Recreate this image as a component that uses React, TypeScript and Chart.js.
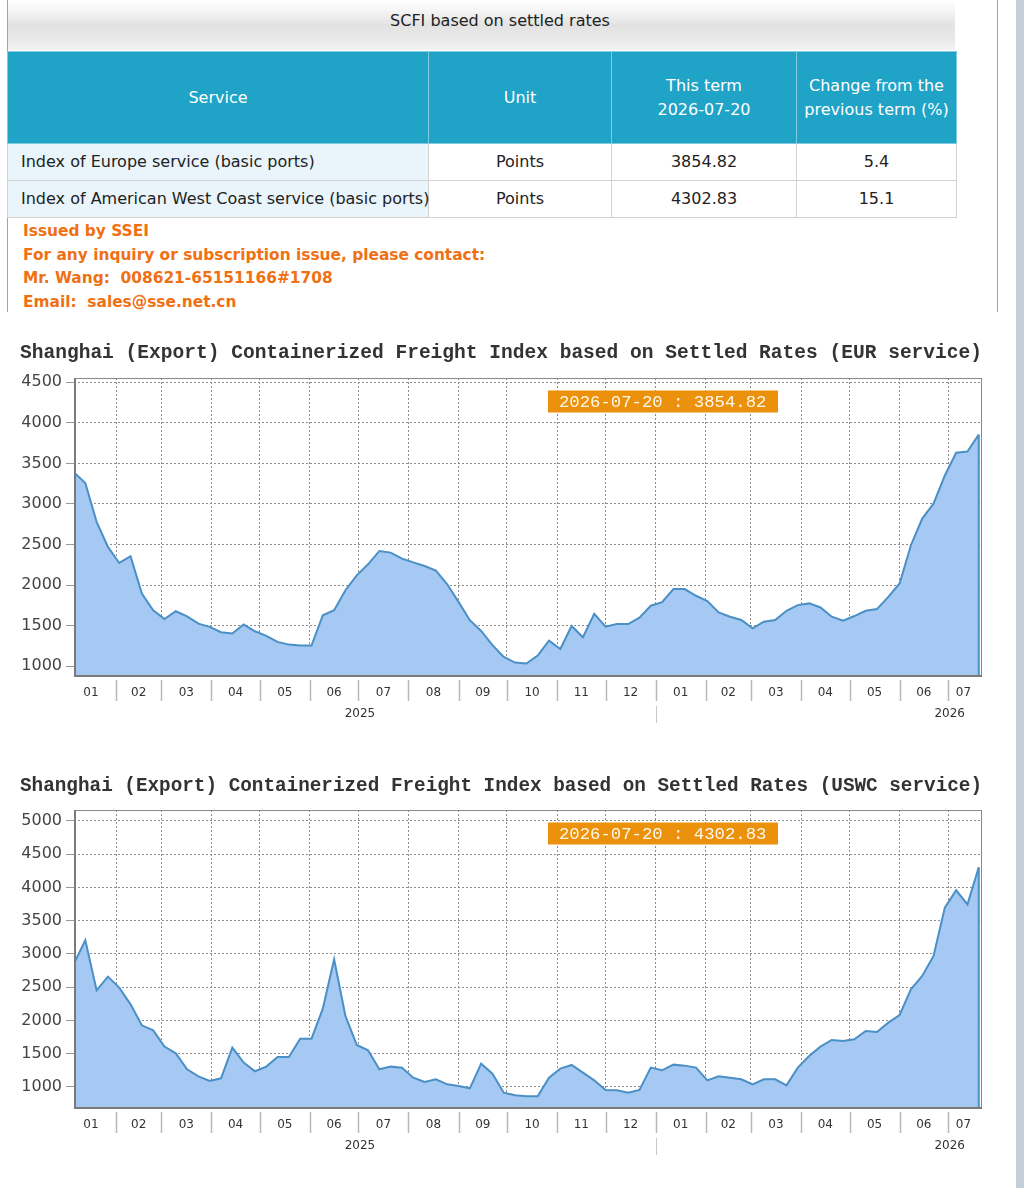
import React, { useEffect, useRef } from "react";
import { Chart, registerables } from "chart.js";

Chart.register(...registerables);

// ---------------- DATA ----------------
const pageTitle = "SCFI based on settled rates";
const tableHeaders = ["Service", "Unit", "This term\n2026-07-20", "Change from the\nprevious term (%)"];
const serviceNames = ["Index of Europe service (basic ports)", "Index of American West Coast service (basic ports)"];
const serviceUnits = ["Points", "Points"];
const thisTermValues = ["3854.82", "4302.83"];
const changePercents = ["5.4", "15.1"];
const contactLines = [
  "Issued by SSEI",
  "For any inquiry or subscription issue, please contact:",
  "Mr. Wang:  008621-65151166#1708",
  "Email:  sales@sse.net.cn",
];

const eurTitle = "Shanghai (Export) Containerized Freight Index based on Settled Rates (EUR service)";
const usTitle = "Shanghai (Export) Containerized Freight Index based on Settled Rates (USWC service)";

const weekDates = [
  "2025-01-06", "2025-01-13", "2025-01-20", "2025-01-27",
  "2025-02-03", "2025-02-10", "2025-02-17", "2025-02-24",
  "2025-03-03", "2025-03-10", "2025-03-17", "2025-03-24", "2025-03-31",
  "2025-04-07", "2025-04-14", "2025-04-21", "2025-04-28",
  "2025-05-05", "2025-05-12", "2025-05-19", "2025-05-26",
  "2025-06-02", "2025-06-09", "2025-06-16", "2025-06-23", "2025-06-30",
  "2025-07-07", "2025-07-14", "2025-07-21", "2025-07-28",
  "2025-08-04", "2025-08-11", "2025-08-18", "2025-08-25",
  "2025-09-01", "2025-09-08", "2025-09-15", "2025-09-22", "2025-09-29",
  "2025-10-06", "2025-10-13", "2025-10-20", "2025-10-27",
  "2025-11-03", "2025-11-10", "2025-11-17", "2025-11-24",
  "2025-12-01", "2025-12-08", "2025-12-15", "2025-12-22", "2025-12-29",
  "2026-01-05", "2026-01-12", "2026-01-19", "2026-01-26",
  "2026-02-02", "2026-02-09", "2026-02-16", "2026-02-23",
  "2026-03-02", "2026-03-09", "2026-03-16", "2026-03-23", "2026-03-30",
  "2026-04-06", "2026-04-13", "2026-04-20", "2026-04-27",
  "2026-05-04", "2026-05-11", "2026-05-18", "2026-05-25",
  "2026-06-01", "2026-06-08", "2026-06-15", "2026-06-22", "2026-06-29",
  "2026-07-06", "2026-07-13", "2026-07-20",
];

const eurValues = [
  3390, 3259, 2780, 2471,
  2273, 2356, 1896, 1690,
  1583, 1678, 1616, 1526, 1485,
  1419, 1403, 1514, 1431,
  1374, 1300, 1267, 1255,
  1255, 1629, 1690, 1937, 2121,
  2257, 2421, 2401, 2327,
  2280, 2235, 2180, 2010,
  1794, 1568, 1435, 1260, 1115,
  1045, 1033, 1131, 1316,
  1213, 1496, 1357, 1647,
  1488, 1520, 1520, 1598, 1746,
  1791, 1951, 1951, 1869,
  1803, 1664, 1611, 1570,
  1467, 1549, 1570, 1684, 1754,
  1775, 1725, 1611, 1561,
  1619, 1684, 1705, 1856,
  2020, 2492, 2820, 3004, 3352,
  3631, 3647, 3854.82,
];

const usValues = [
  2855, 3206, 2454, 2659,
  2494, 2243, 1927, 1852,
  1607, 1506, 1266, 1160, 1090,
  1130, 1592, 1366, 1236,
  1306, 1451, 1451, 1727,
  1727, 2178, 2920, 2068, 1632,
  1551, 1266, 1306, 1291,
  1140, 1075, 1115, 1040,
  1015, 980, 1351, 1200, 915,
  875, 860, 860, 1140,
  1276, 1331, 1216, 1100,
  955, 950, 915, 955, 1291,
  1251, 1336, 1321, 1291,
  1100, 1160, 1140, 1115,
  1040, 1115, 1115, 1025, 1291,
  1466, 1607, 1707, 1692,
  1717, 1842, 1827, 1968,
  2083, 2469, 2669, 2970, 3697,
  3958, 3747, 4302.83,
];

const monthStartDates = [
  "2025-01-01", "2025-02-01", "2025-03-01", "2025-04-01", "2025-05-01", "2025-06-01",
  "2025-07-01", "2025-08-01", "2025-09-01", "2025-10-01", "2025-11-01", "2025-12-01",
  "2026-01-01", "2026-02-01", "2026-03-01", "2026-04-01", "2026-05-01", "2026-06-01",
  "2026-07-01", "2026-08-01",
];
const monthLabels = ["01", "02", "03", "04", "05", "06", "07", "08", "09", "10", "11", "12",
  "01", "02", "03", "04", "05", "06", "07"];
const yearLabels = ["2025", "2026"];
const yearLabelDates = ["2025-07-02", "2026-07-02"];
const yearSeparatorDate = "2026-01-01";
const axisEndDate = "2026-07-22";

const eurYTicks = [1000, 1500, 2000, 2500, 3000, 3500, 4000, 4500];
const usYTicks = [1000, 1500, 2000, 2500, 3000, 3500, 4000, 4500, 5000];

// ---------------- STYLE ----------------
const UI_FONT = '"DejaVu Sans", Verdana, sans-serif';
const AXIS_FONT = '"DejaVu Sans", sans-serif';
const MONO_FONT = '"Liberation Mono", monospace';
const FILL = "#a5c9f2";
const LINE = "#4a8fc6";

const dayOf = (s: string) => {
  const [y, m, d] = s.split("-").map(Number);
  return (Date.UTC(y, m - 1, d) - Date.UTC(2025, 0, 1)) / 86400000;
};

type ChartProps = {
  top: number;
  height: number;
  title: string;
  values: number[];
  yMin: number;
  yMax: number;
  yTicks: number[];
  titleBottom: number;
};

function FreightChart({ top, height, title, values, yMin, yMax, yTicks, titleBottom }: ChartProps) {
  const ref = useRef<HTMLCanvasElement>(null);

  useEffect(() => {
    const canvas = ref.current;
    if (!canvas) return;
    const xMin = dayOf(weekDates[0]);
    const lastDay = dayOf(weekDates[weekDates.length - 1]);
    const xMax = dayOf(axisEndDate);
    const boundaries = monthStartDates.map(dayOf).filter((d) => d > xMin && d < xMax);
    const boundarySet = new Set(boundaries);
    const labelMap = new Map<number, string>();
    monthLabels.forEach((lab, i) => {
      const a = dayOf(monthStartDates[i]);
      const b = Math.min(dayOf(monthStartDates[i + 1]), lastDay);
      labelMap.set((a + b) / 2, lab);
    });
    const xTickValues = [...boundaries, ...Array.from(labelMap.keys())].sort((p, q) => p - q);
    const sepDay = dayOf(yearSeparatorDate);
    const lastLabel = `${weekDates[weekDates.length - 1]} : ${values[values.length - 1].toFixed(2)}`;

    const decor = {
      id: "decor",
      afterDatasetsDraw(chart: any) {
        const { ctx, chartArea: ca } = chart;
        const meta = chart.getDatasetMeta(0);
        const last = meta.data[meta.data.length - 1];
        ctx.save();
        ctx.strokeStyle = LINE;
        ctx.lineWidth = 2;
        ctx.beginPath();
        ctx.moveTo(last.x, last.y);
        ctx.lineTo(last.x, ca.bottom);
        ctx.stroke();
        ctx.strokeStyle = "#8a8a8a";
        ctx.lineWidth = 1;
        ctx.strokeRect(ca.left + 0.5, ca.top + 0.5, ca.width - 1, ca.height - 1);
        ctx.strokeStyle = "#7a7a7a";
        ctx.lineWidth = 2;
        ctx.beginPath();
        ctx.moveTo(ca.left + 1, ca.top);
        ctx.lineTo(ca.left + 1, ca.bottom);
        ctx.lineTo(ca.right, ca.bottom);
        ctx.stroke();
        ctx.restore();
      },
      afterDraw(chart: any) {
        const { ctx, chartArea: ca, scales } = chart;
        const xs = scales.x;
        ctx.save();
        ctx.strokeStyle = "#b8b8b8";
        ctx.lineWidth = 1.5;
        boundaries.forEach((d) => {
          const px = Math.round(xs.getPixelForValue(d)) + 0.5;
          ctx.beginPath();
          ctx.moveTo(px, ca.bottom + 4);
          ctx.lineTo(px, ca.bottom + 25);
          ctx.stroke();
        });
        const sx = Math.round(xs.getPixelForValue(sepDay)) + 0.5;
        ctx.strokeStyle = "#c8c8c8";
        ctx.lineWidth = 1;
        ctx.beginPath();
        ctx.moveTo(sx, ca.bottom + 30);
        ctx.lineTo(sx, ca.bottom + 47);
        ctx.stroke();
        const bx = ca.left + 474;
        const by = ca.top + 12.5;
        ctx.fillStyle = "#eb910b";
        ctx.fillRect(bx, by, 230, 22);
        ctx.fillStyle = "#fff8ea";
        ctx.font = `17.3px ${MONO_FONT}`;
        ctx.textBaseline = "middle";
        ctx.textAlign = "left";
        ctx.fillText(lastLabel, bx + 11, by + 11.5);
        ctx.restore();
      },
    };

    const chart = new Chart(canvas, {
      type: "line",
      data: {
        datasets: [
          {
            data: weekDates.map((d, i) => ({ x: dayOf(d), y: values[i] })),
            borderColor: LINE,
            backgroundColor: FILL,
            borderWidth: 2,
            pointRadius: 0,
            tension: 0,
            fill: "start",
            xAxisID: "x",
            yAxisID: "y",
          },
        ],
      },
      options: {
        responsive: false,
        animation: false,
        events: [],
        layout: { padding: { left: 20, right: 18, top: 0, bottom: 4 } },
        plugins: {
          legend: { display: false },
          tooltip: { enabled: false },
          title: {
            display: true,
            text: title,
            color: "#333",
            font: { family: MONO_FONT, size: 20, weight: "bold", lineHeight: 1.2 },
            padding: { top: 11, bottom: titleBottom },
          },
        },
        scales: {
          x: {
            type: "linear",
            position: "bottom",
            weight: 0,
            min: xMin,
            max: xMax,
            afterBuildTicks: (s: any) => {
              s.ticks = xTickValues.map((v) => ({ value: v }));
            },
            afterFit: (s: any) => {
              s.height = 30;
            },
            grid: {
              color: (c: any) => (c.tick && boundarySet.has(c.tick.value) ? "#8c8c8c" : "rgba(0,0,0,0)"),
              lineWidth: 1,
              drawTicks: false,
            },
            border: { display: false, dash: [2, 2] },
            ticks: {
              autoSkip: false,
              maxRotation: 0,
              minRotation: 0,
              padding: 10,
              color: "#333",
              font: { family: AXIS_FONT, size: 12 },
              callback: (v: any) => labelMap.get(Number(v)) ?? "",
            },
          },
          xYear: {
            type: "linear",
            position: "bottom",
            weight: 1,
            min: xMin,
            max: xMax,
            afterBuildTicks: (s: any) => {
              s.ticks = yearLabelDates.map((d) => ({ value: dayOf(d) }));
            },
            afterFit: (s: any) => {
              s.height = 20;
            },
            grid: { display: false, drawTicks: false },
            border: { display: false },
            ticks: {
              autoSkip: false,
              maxRotation: 0,
              padding: 1,
              color: "#333",
              font: { family: AXIS_FONT, size: 12 },
              callback: (_v: any, i: number) => yearLabels[i],
            },
          },
          y: {
            type: "linear",
            min: yMin,
            max: yMax,
            afterBuildTicks: (s: any) => {
              s.ticks = yTicks.map((v) => ({ value: v }));
            },
            afterFit: (s: any) => {
              s.width = 54;
            },
            grid: {
              color: "#8c8c8c",
              lineWidth: 1,
              drawTicks: true,
              tickLength: 8,
              tickColor: "#9a9a9a",
            },
            border: { display: false, dash: [2, 2] },
            ticks: {
              padding: 4,
              color: "#444",
              font: { family: AXIS_FONT, size: 16 },
              callback: (v: any) => String(v),
            },
          },
        },
      } as any,
      plugins: [decor as any],
    });
    return () => chart.destroy();
  }, []);

  return (
    <canvas
      ref={ref}
      width={1000}
      height={height}
      style={{ position: "absolute", left: 0, top, width: 1000, height }}
    />
  );
}

export default function App() {
  const thStyle: React.CSSProperties = {
    background: "#1fa3c7",
    color: "#fff",
    fontWeight: "normal",
    border: "1px solid #7fcadf",
    lineHeight: "24px",
    whiteSpace: "pre-line",
    padding: 0,
    textAlign: "center",
  };
  const tdStyle: React.CSSProperties = {
    border: "1px solid #d2d2d2",
    padding: 0,
    lineHeight: "20px",
    color: "#222",
    textAlign: "center",
    background: "#fff",
  };
  return (
    <div
      style={{
        position: "absolute",
        left: 0,
        top: 0,
        width: 1024,
        height: 1188,
        overflow: "hidden",
        background: "#fff",
        fontFamily: UI_FONT,
      }}
    >
      <div style={{ position: "absolute", left: 7, top: 0, width: 1, height: 312, background: "#8fa7bf" }} />
      <div style={{ position: "absolute", left: 997, top: 0, width: 1, height: 312, background: "#8fa7bf" }} />
      <div style={{ position: "absolute", left: 1016, top: 0, width: 8, height: 1188, background: "#c5cdd8" }} />

      <div
        style={{
          position: "absolute",
          left: 8,
          top: 0,
          width: 947,
          height: 50,
          background: "linear-gradient(to bottom, #ffffff 0%, #f6f6f6 20%, #e2e2e2 50%, #e9e9e9 75%, #f3f3f3 100%)",
        }}
      />
      <div
        style={{
          position: "absolute",
          left: 0,
          top: 9,
          width: 1000,
          textAlign: "center",
          fontSize: 16,
          lineHeight: "24px",
          color: "#222",
        }}
      >
        {pageTitle}
      </div>

      <table
        style={{
          position: "absolute",
          left: 7,
          top: 51,
          width: 949,
          borderCollapse: "collapse",
          tableLayout: "fixed",
          fontSize: 16,
          fontFamily: UI_FONT,
        }}
      >
        <colgroup>
          <col style={{ width: 421 }} />
          <col style={{ width: 183 }} />
          <col style={{ width: 185 }} />
          <col style={{ width: 160 }} />
        </colgroup>
        <thead>
          <tr style={{ height: 92 }}>
            {tableHeaders.map((h) => (
              <th key={h} style={thStyle}>
                {h}
              </th>
            ))}
          </tr>
        </thead>
        <tbody>
          {serviceNames.map((name, i) => (
            <tr key={name} style={{ height: 37 }}>
              <td style={{ ...tdStyle, textAlign: "left", paddingLeft: 13, background: "#e9f5fb", whiteSpace: "nowrap" }}>
                {name}
              </td>
              <td style={tdStyle}>{serviceUnits[i]}</td>
              <td style={tdStyle}>{thisTermValues[i]}</td>
              <td style={tdStyle}>{changePercents[i]}</td>
            </tr>
          ))}
        </tbody>
      </table>

      <div
        style={{
          position: "absolute",
          left: 23,
          top: 220,
          fontSize: 15.4,
          fontWeight: "bold",
          lineHeight: "23.7px",
          color: "#f07014",
          whiteSpace: "pre",
        }}
      >
        {contactLines.map((l) => (
          <div key={l}>{l}</div>
        ))}
      </div>

      <FreightChart
        top={330}
        height={400}
        title={eurTitle}
        values={eurValues}
        yMin={880}
        yMax={4553}
        yTicks={eurYTicks}
        titleBottom={13}
      />
      <FreightChart
        top={763}
        height={399}
        title={usTitle}
        values={usValues}
        yMin={684}
        yMax={5165}
        yTicks={usYTicks}
        titleBottom={12}
      />
    </div>
  );
}
